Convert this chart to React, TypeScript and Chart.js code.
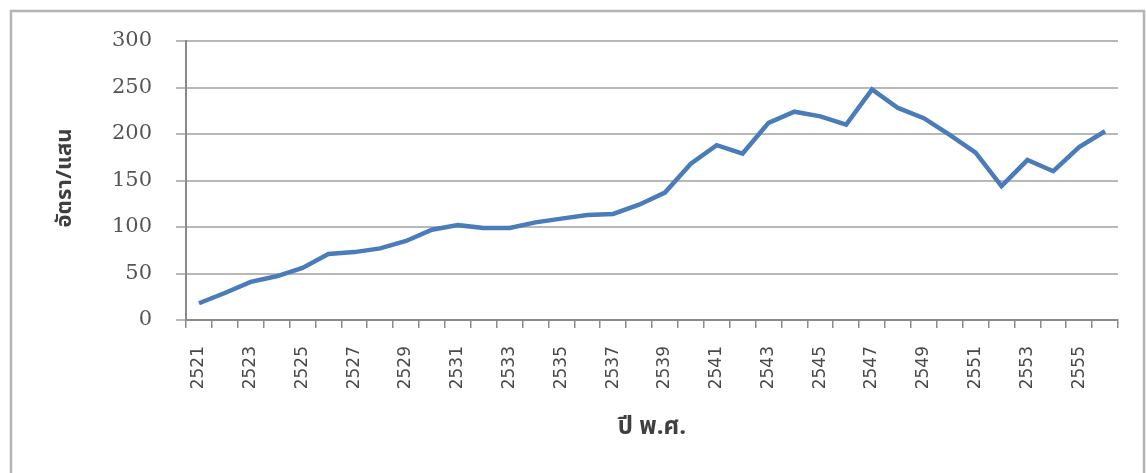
import React, { useEffect, useRef } from "react";
import { Chart, registerables } from "chart.js";

Chart.register(...registerables);

const years: string[] = [
  "2521", "2522", "2523", "2524", "2525", "2526", "2527", "2528", "2529", "2530",
  "2531", "2532", "2533", "2534", "2535", "2536", "2537", "2538", "2539", "2540",
  "2541", "2542", "2543", "2544", "2545", "2546", "2547", "2548", "2549", "2550",
  "2551", "2552", "2553", "2554", "2555", "2556",
];

const rates: number[] = [
  18, 29, 41, 47, 56, 71, 73, 77, 85, 97,
  102, 99, 99, 105, 109, 113, 114, 124, 137, 168,
  188, 179, 212, 224, 219, 210, 248, 228, 217, 199,
  180, 144, 172, 160, 186, 203,
];

const yTicks: number[] = [0, 50, 100, 150, 200, 250, 300];

const yTitle = "อัตรา/แสน";
const xTitle = "ปี พ.ศ.";

const W = 1146;
const H = 473;

export default function App() {
  const ref = useRef<HTMLCanvasElement | null>(null);

  useEffect(() => {
    document.body.style.margin = "0";
    const canvas = ref.current;
    if (!canvas) return;

    const decor = {
      id: "decor",
      beforeDraw(chart: any) {
        const ctx = chart.ctx;
        ctx.save();
        ctx.fillStyle = "#ffffff";
        ctx.fillRect(0, 0, W, H);
        ctx.strokeStyle = "#b4b4b4";
        ctx.lineWidth = 2.5;
        ctx.strokeRect(11, 11, 1133, 520);
        ctx.restore();
      },
      afterDraw(chart: any) {
        const ctx = chart.ctx;
        ctx.save();
        ctx.fillStyle = "#3f3f3f";
        ctx.textAlign = "center";
        ctx.textBaseline = "middle";
        ctx.save();
        ctx.font = 'bold 22px "Noto Sans Thai", "Noto Sans", "DejaVu Sans", sans-serif';
        ctx.translate(67, 178);
        ctx.rotate(-Math.PI / 2);
        ctx.fillText(yTitle, 0, 0);
        ctx.restore();
        ctx.font = 'bold 24px "Noto Sans Thai", "Noto Sans", "DejaVu Sans", sans-serif';
        ctx.fillText(xTitle, 652, 429);
        ctx.restore();
      },
    };

    const chart = new Chart(canvas, {
      type: "line",
      data: {
        labels: years,
        datasets: [
          {
            data: rates,
            borderColor: "#4a7cba",
            borderWidth: 4.5,
            pointRadius: 0,
            tension: 0,
            fill: false,
          },
        ],
      },
      options: {
        animation: false,
        responsive: false,
        events: [],
        layout: { padding: { left: 0, top: 41, right: 28, bottom: 0 } },
        plugins: {
          legend: { display: false },
          tooltip: { enabled: false },
          title: { display: false },
        },
        scales: {
          x: {
            type: "category",
            offset: true,
            afterFit(scale: any) {
              scale.height = H - 320;
            },
            grid: {
              offset: true,
              drawOnChartArea: false,
              drawTicks: true,
              tickLength: 8,
              color: "#8a8a8a",
              lineWidth: 1.5,
            },
            border: { display: true, color: "#8a8a8a", width: 2 },
            ticks: {
              autoSkip: false,
              maxRotation: 90,
              minRotation: 90,
              padding: 18,
              color: "#4a4a4a",
              font: { family: '"DejaVu Sans", sans-serif', size: 17 },
              callback: (_v: any, i: number) => (i % 2 === 0 ? years[i] : ""),
            },
          },
          y: {
            min: 0,
            max: 300,
            afterFit(scale: any) {
              scale.width = 186;
            },
            afterBuildTicks(scale: any) {
              scale.ticks = yTicks.map((v) => ({ value: v }));
            },
            grid: {
              color: "#b8b8b8",
              lineWidth: 2,
              drawTicks: true,
              tickLength: 10,
            },
            border: { display: true, color: "#8a8a8a", width: 2 },
            ticks: {
              padding: 24,
              color: "#555555",
              font: { family: '"DejaVu Serif", serif', size: 21 },
            },
          },
        },
      },
      plugins: [decor],
    } as any);

    return () => chart.destroy();
  }, []);

  return (
    <div style={{ position: "fixed", left: 0, top: 0, width: W, height: H, background: "#fff" }}>
      <canvas ref={ref} width={W} height={H} style={{ display: "block", width: W, height: H }} />
    </div>
  );
}
